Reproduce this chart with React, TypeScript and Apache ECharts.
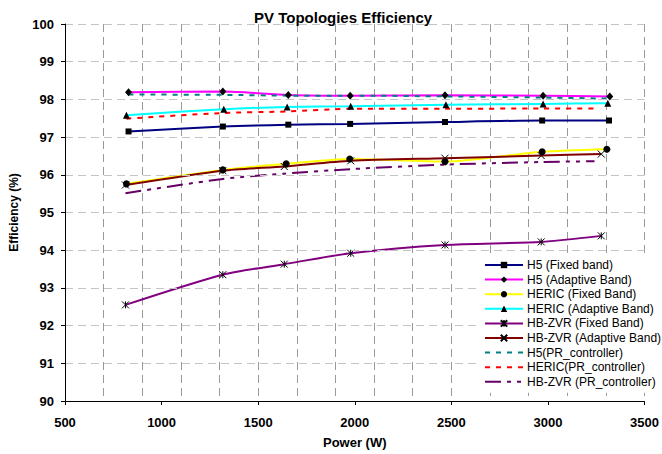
import React, { useEffect, useRef } from 'react';
import * as echarts from 'echarts';

// Power (W) per series
const h5FixedPower = [829, 1317, 1656, 1976, 2467, 2970, 3316];
const h5AdaptivePower = [829, 1317, 1656, 1976, 2467, 2975, 3320];
const hericFixedPower = [818, 1317, 1645, 1974, 2467, 2970, 3305];
const hericAdaptivePower = [818, 1322, 1650, 1979, 2472, 2975, 3310];
const hbzvrFixedPower = [813, 1317, 1635, 1979, 2467, 2965, 3276];
const hbzvrAdaptivePower = [813, 1317, 1635, 1979, 2467, 2965, 3276];
const h5PrPower = [829, 1317, 1656, 1976, 2467, 2975, 3320];
const hericPrPower = [818, 1317, 1650, 1979, 2467, 2970, 3250];
const hbzvrPrPower = [813, 1317, 1635, 1979, 2467, 2965, 3241];

// Efficiency (%) per series
const h5FixedEff = [97.15, 97.28, 97.33, 97.35, 97.4, 97.44, 97.44];
const h5AdaptiveEff = [98.19, 98.21, 98.12, 98.1, 98.11, 98.1, 98.08];
const hericFixedEff = [95.76, 96.13, 96.29, 96.42, 96.35, 96.61, 96.68];
const hericAdaptiveEff = [97.58, 97.74, 97.8, 97.82, 97.86, 97.88, 97.9];
const hbzvrFixedEff = [92.55, 93.35, 93.63, 93.92, 94.14, 94.22, 94.38];
const hbzvrAdaptiveEff = [95.73, 96.11, 96.22, 96.37, 96.44, 96.51, 96.55];
const h5PrEff = [98.13, 98.12, 98.1, 98.1, 98.08, 98.05, 98.02];
const hericPrEff = [97.49, 97.64, 97.68, 97.75, 97.75, 97.76, 97.76];
const hbzvrPrEff = [95.51, 95.89, 96.03, 96.15, 96.27, 96.34, 96.36];

const seriesNames = [
  'H5 (Fixed band)',
  'H5 (Adaptive Band)',
  'HERIC (Fixed Band)',
  'HERIC (Adaptive Band)',
  'HB-ZVR (Fixed Band)',
  'HB-ZVR (Adaptive Band)',
  'H5(PR_controller)',
  'HERIC(PR_controller)',
  'HB-ZVR (PR_controller)',
];

const yTicks = [90, 91, 92, 93, 94, 95, 96, 97, 98, 99, 100];
const xTicks = [500, 1000, 1500, 2000, 2500, 3000, 3500];

const FONT = "'Liberation Sans', Arial, Helvetica, sans-serif";
const X_SYM = 'path://M0,0L10,10M10,0L0,10';
const STAR_SYM = 'path://M0,0L10,10M10,0L0,10M5,0L5,10';

export default function App() {
  const ref = useRef<HTMLDivElement>(null);
  useEffect(() => {
    const chart = echarts.init(ref.current!, null, { renderer: 'svg' });
    const pair = (xs: number[], ys: number[]) => xs.map((x, i) => [x, ys[i]]);

    const specs = [
      { data: pair(h5FixedPower, h5FixedEff), color: '#000080', symbol: 'rect', size: 6, type: 'solid' },
      { data: pair(h5AdaptivePower, h5AdaptiveEff), color: '#FF00FF', symbol: 'diamond', size: [7, 8], type: 'solid' },
      { data: pair(hericFixedPower, hericFixedEff), color: '#FFFF00', symbol: 'circle', size: 7, type: 'solid' },
      { data: pair(hericAdaptivePower, hericAdaptiveEff), color: '#00FFFF', symbol: 'triangle', size: 7, type: 'solid' },
      { data: pair(hbzvrFixedPower, hbzvrFixedEff), color: '#800080', symbol: STAR_SYM, size: 7, type: 'solid' },
      { data: pair(hbzvrAdaptivePower, hbzvrAdaptiveEff), color: '#800000', symbol: X_SYM, size: 7, type: 'solid' },
      { data: pair(h5PrPower, h5PrEff), color: '#008080', symbol: 'none', size: 0, type: [5, 6] },
      { data: pair(hericPrPower, hericPrEff), color: '#FF0000', symbol: 'none', size: 0, type: [5, 6] },
      { data: pair(hbzvrPrPower, hbzvrPrEff), color: '#660066', symbol: 'none', size: 0, type: [16, 6, 4, 6, 4, 6] },
    ];

    const series = specs.map((s, i) => ({
      name: seriesNames[i],
      type: 'line',
      xAxisIndex: 0,
      yAxisIndex: 0,
      data: s.data,
      smooth: 0.25,
      symbol: s.symbol,
      symbolSize: s.size,
      showSymbol: s.symbol !== 'none',
      lineStyle: { color: s.color, width: 2, type: s.type },
      itemStyle: {
        color: '#000',
        borderColor: '#000',
        borderWidth: s.symbol.startsWith('path') ? 1 : 0,
      },
      emphasis: { disabled: true },
      z: 2,
    }));

    const legendData = seriesNames.map((name, i) =>
      specs[i].symbol === 'none'
        ? { name, itemStyle: { opacity: 0, color: 'transparent', borderWidth: 0 } }
        : { name }
    );

    chart.setOption({
      animation: false,
      backgroundColor: '#fff',
      title: {
        text: 'PV Topologies Efficiency',
        left: 249,
        top: 5,
        textStyle: { fontFamily: FONT, fontSize: 15, fontWeight: 'bold', color: '#000' },
      },
      grid: { left: 64, right: 14, top: 24, bottom: 53 },
      legend: {
        orient: 'vertical',
        left: 478,
        top: 255,
        padding: [4, 1, 5, 6],
        itemWidth: 38,
        itemHeight: 8,
        itemGap: 2.6,
        backgroundColor: '#fff',
        textStyle: { fontFamily: FONT, fontSize: 12, color: '#000', padding: [0, 0, 0, -1] },
        data: legendData,
        z: 10,
      },
      xAxis: [
        {
          type: 'value',
          min: xTicks[0],
          max: xTicks[xTicks.length - 1],
          interval: xTicks[1] - xTicks[0],
          position: 'bottom',
          name: 'Power (W)',
          nameLocation: 'middle',
          nameGap: 35,
          nameTextStyle: { fontFamily: FONT, fontSize: 13, fontWeight: 'bold', color: '#000' },
          axisLine: { show: true, onZero: false, lineStyle: { color: '#000', width: 1 } },
          axisTick: { show: true, length: 4, lineStyle: { color: '#000' } },
          axisLabel: {
            fontFamily: FONT,
            fontSize: 13,
            fontWeight: 'bold',
            color: '#000',
            margin: 15,
            formatter: (v: number) => String(v),
          },
          splitLine: { show: false },
          z: 3,
        },
        {
          type: 'value',
          min: 0,
          max: 3000,
          interval: 200,
          position: 'bottom',
          axisLine: { show: false },
          axisTick: { show: false },
          axisLabel: { show: false },
          splitLine: { show: true, lineStyle: { color: '#9a9a9a', width: 1, type: [8, 5] } },
        },
      ],
      yAxis: {
        type: 'value',
        min: yTicks[0],
        max: yTicks[yTicks.length - 1],
        interval: yTicks[1] - yTicks[0],
        name: 'Efficiency (%)',
        nameLocation: 'middle',
        nameGap: 45,
        nameTextStyle: { fontFamily: FONT, fontSize: 12, fontWeight: 'bold', color: '#000' },
        axisLine: { show: true, lineStyle: { color: '#000', width: 1 } },
        axisTick: { show: true, length: 4, lineStyle: { color: '#000' } },
        axisLabel: {
          fontFamily: FONT,
          fontSize: 13,
          fontWeight: 'bold',
          color: '#000',
          margin: 11,
          formatter: (v: number) => String(v),
        },
        splitLine: { show: true, lineStyle: { color: '#c4c4c4', width: 1, type: [8, 5] } },
        z: 3,
      },
      series,
    });
    return () => chart.dispose();
  }, []);
  return <div ref={ref} style={{ position: 'fixed', left: 0, top: 0, width: 662, height: 454 }} />;
}
